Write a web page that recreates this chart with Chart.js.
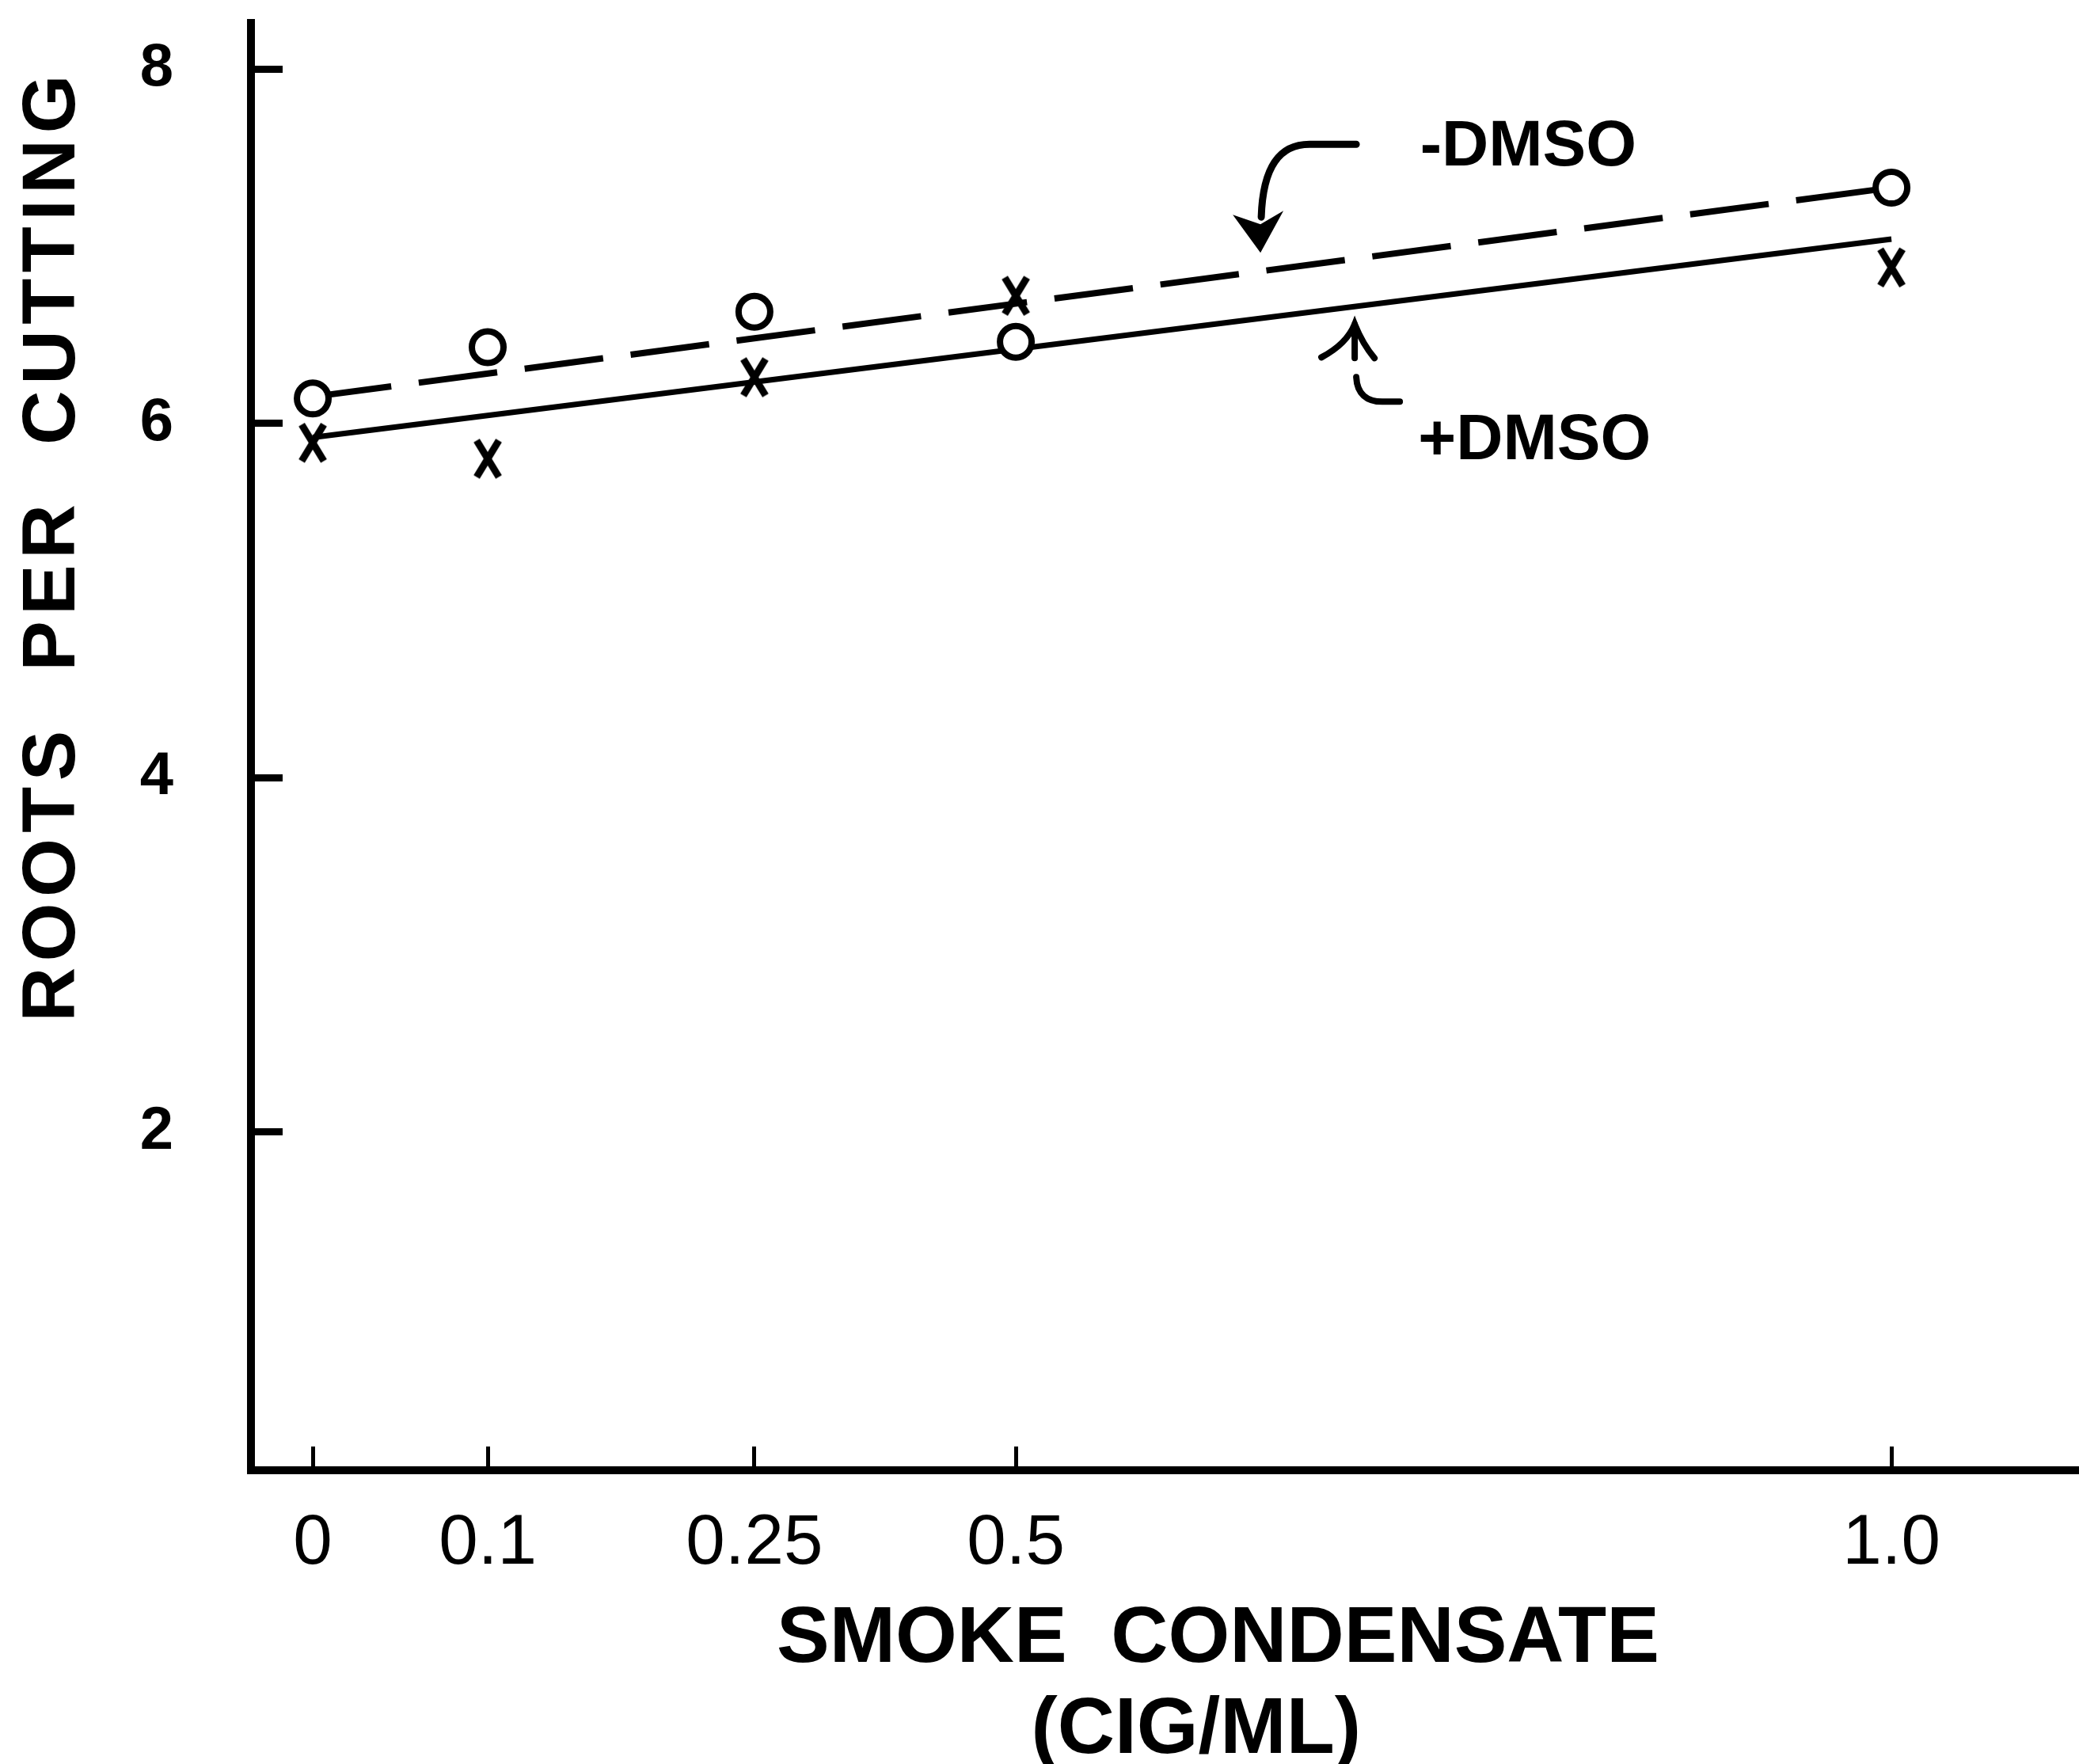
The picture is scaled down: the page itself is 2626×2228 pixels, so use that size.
<!DOCTYPE html>
<html>
<head>
<meta charset="utf-8">
<title>Roots per cutting vs smoke condensate</title>
<script src="https://cdn.jsdelivr.net/npm/chart.js@4.4.1/dist/chart.umd.min.js"></script>
<style>
    html, body { margin: 0; padding: 0; background: #fff; }
    canvas { display: block; }
</style>
</head>
<body>
<canvas id="grafico-raizes" width="2626" height="2228"></canvas>
<script>
// values
const condensate = [0, 0.1, 0.25, 0.5, 1.0];
const condensateLabels = ['0', '0.1', '0.25', '0.5', '1.0'];
const minusDmso = [6.14, 6.43, 6.63, 6.46, 7.33];   // open circles
const plusDmso = [5.89, 5.80, 6.26, 6.72, 6.88];    // x marks
const fitEnds = [0, 1.0];
const minusDmsoFit = [6.15, 7.33];                  // dashed line
const plusDmsoFit = [5.92, 7.04];                   // solid line
const rootTicks = [2, 4, 6, 8];

const yTitle = 'ROOTS  PER  CUTTING';
const xTitle = ['SMOKE  CONDENSATE', '(CIG/ML)'];
const minusLabel = '-DMSO';
const plusLabel = '+DMSO';

document.addEventListener('DOMContentLoaded', () => {
    // the hand drawn x axis is not evenly spaced, so map values piecewise
    const BaseLinear = Chart.LinearScale || Chart.registry.getScale('linear');

    class UnevenScale extends BaseLinear {
        toDecimal(value) {
            const v = this.options.stopValues;
            const f = this.options.stopFractions;
            let i = 0;
            while (i < v.length - 2 && value > v[i + 1]) i++;
            return f[i] + (value - v[i]) / (v[i + 1] - v[i]) * (f[i + 1] - f[i]);
        }
        getPixelForValue(value) {
            if (value === null || isNaN(value)) return NaN;
            return this.getPixelForDecimal(this.toDecimal(value));
        }
        getValueForPixel(pixel) {
            const d = this.getDecimalForPixel(pixel);
            const v = this.options.stopValues;
            const f = this.options.stopFractions;
            let i = 0;
            while (i < f.length - 2 && d > f[i + 1]) i++;
            return v[i] + (d - f[i]) / (f[i + 1] - f[i]) * (v[i + 1] - v[i]);
        }
    }
    UnevenScale.id = 'uneven';
    UnevenScale.defaults = BaseLinear.defaults;
    Chart.register(UnevenScale);

    // big tick paddings would otherwise push the chart area in
    const noScalePadding = (s) => {
        s.paddingTop = 0;
        s.paddingBottom = 0;
        s.paddingLeft = 0;
        s.paddingRight = 0;
    };

    // tall narrow "x" used for the +DMSO points
    const crossMark = document.createElement('canvas');
    crossMark.width = 40;
    crossMark.height = 54;
    const cm = crossMark.getContext('2d');
    cm.strokeStyle = '#000';
    cm.lineWidth = 9;
    cm.beginPath();
    cm.moveTo(6, 4);
    cm.lineTo(34, 50);
    cm.moveTo(34, 4);
    cm.lineTo(6, 50);
    cm.stroke();

    function drawDownArrow(ctx, tx, ty) {
        ctx.lineWidth = 9;
        ctx.lineCap = 'round';
        ctx.beginPath();
        ctx.moveTo(tx + 121, ty - 137);
        ctx.lineTo(tx + 62, ty - 137);
        ctx.bezierCurveTo(tx + 25, ty - 137, tx + 3, ty - 110, tx + 1, ty - 45);
        ctx.stroke();
        ctx.beginPath();
        ctx.moveTo(tx, ty);
        ctx.lineTo(tx - 35, ty - 48);
        ctx.lineTo(tx, ty - 36);
        ctx.lineTo(tx + 29, ty - 53);
        ctx.closePath();
        ctx.fill();
    }

    function drawUpArrow(ctx, tx, ty) {
        ctx.lineWidth = 8;
        ctx.lineCap = 'round';
        ctx.beginPath();
        ctx.moveTo(tx - 42, ty + 42);
        ctx.quadraticCurveTo(tx - 10, ty + 25, tx, ty);
        ctx.quadraticCurveTo(tx + 10, ty + 25, tx + 25, ty + 43);
        ctx.moveTo(tx, ty);
        ctx.lineTo(tx, ty + 43);
        ctx.stroke();
        ctx.beginPath();
        ctx.moveTo(tx + 2, ty + 67);
        ctx.bezierCurveTo(tx + 3, ty + 88, tx + 15, ty + 98, tx + 35, ty + 98);
        ctx.lineTo(tx + 57, ty + 98);
        ctx.stroke();
    }

    const handLabels = {
        id: 'handLabels',
        afterDraw(chart) {
            const { ctx, chartArea, scales: { x, y } } = chart;
            const areaH = chartArea.bottom - chartArea.top;
            const areaW = chartArea.right - chartArea.left;
            ctx.save();
            ctx.fillStyle = '#000';
            ctx.strokeStyle = '#000';
            ctx.textBaseline = 'middle';

            // y axis title, rotated
            ctx.save();
            ctx.translate(y.left + 68, chartArea.top + 0.361 * areaH);
            ctx.rotate(-Math.PI / 2);
            ctx.font = 'bold 95px "Liberation Sans"';
            ctx.letterSpacing = '7.5px';
            ctx.textAlign = 'center';
            ctx.fillText(yTitle, 0, 0);
            ctx.restore();

            // x axis title, two lines
            ctx.font = 'bold 100px "Liberation Sans"';
            ctx.textAlign = 'center';
            ctx.fillText(xTitle[0], chartArea.left + 0.529 * areaW, chartArea.bottom + 214);
            ctx.fillText(xTitle[1], chartArea.left + 0.517 * areaW, chartArea.bottom + 329);

            // series labels and their arrows
            ctx.font = 'bold 82px "Liberation Sans"';
            ctx.textAlign = 'right';
            ctx.fillText(minusLabel, x.getPixelForValue(0.8544), y.getPixelForValue(7.557));
            ctx.fillText(plusLabel, x.getPixelForValue(0.8626), y.getPixelForValue(5.90));
            drawDownArrow(ctx, x.getPixelForValue(0.6397), y.getPixelForValue(6.963));
            drawUpArrow(ctx, x.getPixelForValue(0.6935), y.getPixelForValue(6.56));
            ctx.restore();
        }
    };

    const ctx = document.getElementById('grafico-raizes').getContext('2d');

    new Chart(ctx, {
        type: 'line',
        data: {
            datasets: [
                {
                    label: '-DMSO',
                    data: condensate.map((c, i) => ({ x: c, y: minusDmso[i] })),
                    showLine: false,
                    pointStyle: 'circle',
                    pointRadius: 20,
                    pointBorderWidth: 8,
                    pointBorderColor: '#000',
                    pointBackgroundColor: '#fff'
                },
                {
                    label: '+DMSO',
                    data: condensate.map((c, i) => ({ x: c, y: plusDmso[i] })),
                    showLine: false,
                    pointStyle: crossMark,
                    pointRadius: 20
                },
                {
                    label: '-DMSO fit',
                    data: fitEnds.map((c, i) => ({ x: c, y: minusDmsoFit[i] })),
                    borderColor: '#000',
                    borderWidth: 8,
                    borderDash: [100, 35],
                    pointRadius: 0
                },
                {
                    label: '+DMSO fit',
                    data: fitEnds.map((c, i) => ({ x: c, y: plusDmsoFit[i] })),
                    borderColor: '#000',
                    borderWidth: 7,
                    pointRadius: 0
                }
            ]
        },
        options: {
            responsive: false,
            animation: false,
            devicePixelRatio: 1,
            events: [],
            layout: { autoPadding: false, padding: { top: 29, right: 0, bottom: 0, left: 0 } },
            plugins: {
                legend: { display: false },
                tooltip: { enabled: false }
            },
            scales: {
                x: {
                    type: 'uneven',
                    min: -0.04,
                    max: 1.1,
                    stopValues: condensate,
                    stopFractions: [0.0338, 0.1295, 0.2754, 0.4184, 0.8974],
                    afterBuildTicks: (s) => { s.ticks = condensate.map(v => ({ value: v })); },
                    afterFit: (s) => { s.height = 371; noScalePadding(s); },
                    border: { display: true, color: '#000', width: 10 },
                    grid: { display: true, drawOnChartArea: false, drawTicks: true, tickLength: -30, tickWidth: 5, tickColor: '#000' },
                    ticks: {
                        autoSkip: false,
                        maxRotation: 0,
                        color: '#000',
                        padding: 70,
                        font: { family: 'Liberation Sans', size: 89 },
                        callback: (value, index) => condensateLabels[index]
                    }
                },
                y: {
                    type: 'linear',
                    min: 0.09,
                    max: 8.26,
                    afterBuildTicks: (s) => { s.ticks = rootTicks.map(v => ({ value: v })); },
                    afterFit: (s) => { s.width = 317; noScalePadding(s); },
                    border: { display: true, color: '#000', width: 10 },
                    grid: { display: true, drawOnChartArea: false, drawTicks: true, tickLength: -40, tickWidth: 9, tickColor: '#000' },
                    ticks: {
                        color: '#000',
                        padding: 138,
                        font: { family: 'Liberation Sans', size: 76, weight: 'bold' }
                    }
                }
            }
        },
        plugins: [handLabels]
    });
});
</script>
</body>
</html>
